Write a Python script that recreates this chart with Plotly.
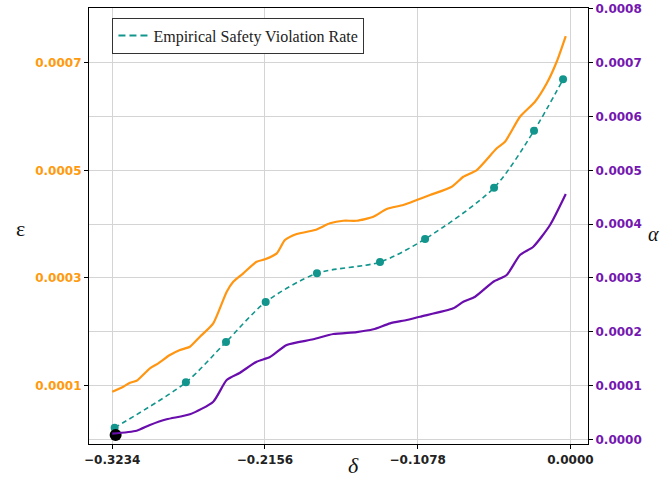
import plotly.graph_objects as go

# ---- data ----
eps_delta = [-0.3234, -0.3156, -0.3109, -0.3062, -0.2968, -0.2909, -0.2827, -0.2756, -0.2686,
             -0.2615, -0.2521, -0.2426, -0.2380, -0.2309, -0.2215, -0.2156, -0.2073, -0.2015,
             -0.1932, -0.1803, -0.1697, -0.1603, -0.1509, -0.1391, -0.1297, -0.1180, -0.1085,
             -0.0991, -0.0838, -0.0756, -0.0661, -0.0520, -0.0462, -0.0356, -0.0250, -0.0167,
             -0.0097, -0.0033]
eps_vals = [0.0000885, 0.0000978, 0.0001052, 0.0001089, 0.0001320, 0.0001413, 0.0001567, 0.0001660,
            0.0001721, 0.0001907, 0.0002156, 0.0002743, 0.0002929, 0.0003085, 0.0003301, 0.0003346,
            0.0003457, 0.0003704, 0.0003816, 0.0003890, 0.0004015, 0.0004063, 0.0004063, 0.0004137,
            0.0004281, 0.0004355, 0.0004448, 0.0004541, 0.0004695, 0.0004881, 0.0005005, 0.0005409,
            0.0005531, 0.0005996, 0.0006275, 0.0006617, 0.0007018, 0.0007496]

alpha_delta = [-0.3234, -0.3062, -0.2968, -0.2850, -0.2686, -0.2521, -0.2426, -0.2332, -0.2215,
               -0.2121, -0.2003, -0.1815, -0.1674, -0.1509, -0.1391, -0.1273, -0.1156, -0.1062,
               -0.0827, -0.0756, -0.0673, -0.0544, -0.0450, -0.0356, -0.0262, -0.0144, -0.0033]
alpha_vals = [0.0000105, 0.0000160, 0.0000266, 0.0000372, 0.0000465, 0.0000699, 0.0001102, 0.0001238,
              0.0001442, 0.0001530, 0.0001753, 0.0001859, 0.0001957, 0.0001994, 0.0002045, 0.0002156,
              0.0002217, 0.0002279, 0.0002435, 0.0002558, 0.0002651, 0.0002929, 0.0003054, 0.0003426,
              0.0003580, 0.0003983, 0.0004559]

emp_delta = [-0.3217, -0.2714, -0.2431, -0.2151, -0.1789, -0.1344, -0.1026, -0.0539, -0.0257, -0.0052]
emp_vals = [0.0000216, 0.0001059, 0.0001809, 0.0002552, 0.0003085, 0.0003295, 0.0003723,
            0.0004677, 0.0005736, 0.0006691]

start_delta = [-0.3210]
start_val = [0.0000080]

x_ticks = [-0.3234, -0.2156, -0.1078, 0.0]
left_ticks = [0.0001, 0.0003, 0.0005, 0.0007]
right_ticks = [0.0, 0.0001, 0.0002, 0.0003, 0.0004, 0.0005, 0.0006, 0.0007, 0.0008]

ORANGE = "#FF9510"
PURPLE = "#6A0DAD"
TEAL = "#12958C"
ORANGE_LBL = "#FF9A0E"
PURPLE_LBL = "#7417B0"

yrange = [-0.0000087, 0.0008017]

fig = go.Figure()
fig.add_trace(go.Scatter(x=eps_delta, y=eps_vals, mode="lines",
                         line=dict(color=ORANGE, width=2.2, shape="spline", smoothing=0.6),
                         showlegend=False, yaxis="y"))
fig.add_trace(go.Scatter(x=alpha_delta, y=alpha_vals, mode="lines",
                         line=dict(color=PURPLE, width=2.2, shape="spline", smoothing=0.6),
                         showlegend=False, yaxis="y2"))
fig.add_trace(go.Scatter(x=emp_delta, y=emp_vals, mode="lines+markers",
                         line=dict(color=TEAL, width=1.6, dash="5px,3.5px", shape="spline", smoothing=0.8),
                         marker=dict(color=TEAL, size=8), showlegend=False, yaxis="y"))
# legend entry (line only)
fig.add_trace(go.Scatter(x=[None], y=[None], mode="lines", name="Empirical Safety Violation Rate",
                         line=dict(color=TEAL, width=1.8, dash="7px,4px"), yaxis="y"))
fig.add_trace(go.Scatter(x=start_delta, y=start_val, mode="markers", marker=dict(color="black", size=12),
                         showlegend=False, yaxis="y"))

tickfont_x = dict(family="DejaVu Sans", size=12, color="#222222", weight="bold")
fig.update_layout(
    width=660, height=493,
    margin=dict(l=89, r=72, t=8, b=49),
    paper_bgcolor="white", plot_bgcolor="white",
    xaxis=dict(range=[-0.3398, 0.0124], tickvals=x_ticks, tickformat=".4f", automargin=False,
               showgrid=True, gridcolor="#d4d4d4", gridwidth=1,
               showline=True, linecolor="black", linewidth=1.2, mirror=True,
               ticks="outside", ticklen=4, tickcolor="black",
               tickfont=tickfont_x, zeroline=False),
    yaxis=dict(range=yrange, tickvals=left_ticks, tickformat=".4f", automargin=False,
               showgrid=True, gridcolor="#d4d4d4", gridwidth=1,
               showline=True, linecolor="black", linewidth=1.2,
               ticks="outside", ticklen=4, tickcolor="black",
               tickfont=dict(family="DejaVu Sans", size=12, color=ORANGE_LBL, weight="bold"), zeroline=False),
    yaxis2=dict(range=yrange, tickvals=right_ticks, tickformat=".4f", overlaying="y", side="right",
                automargin=False,
                showgrid=True, gridcolor="#d4d4d4", gridwidth=1,
                showline=True, linecolor="black", linewidth=1.2,
                ticks="outside", ticklen=4, tickcolor="black",
                tickfont=dict(family="DejaVu Sans", size=12, color=PURPLE_LBL, weight="bold"), zeroline=False),
    legend=dict(x=0.047, y=0.978, xanchor="left", yanchor="top",
                bgcolor="white", bordercolor="#333333", borderwidth=1,
                font=dict(family="Liberation Serif", size=16, color="#222222"),
                itemwidth=30),
    annotations=[
        dict(text="ε", x=14, y=228, xref="paper", yref="paper", showarrow=False,
             font=dict(family="Liberation Serif", size=22, color="#111111")),
        dict(text="<i>α</i>", x=646, y=234, xref="paper", yref="paper", showarrow=False,
             xanchor="left",
             font=dict(family="Liberation Serif", size=20, color="#111111")),
        dict(text="<i>δ</i>", x=353, y=480, xref="paper", yref="paper", showarrow=False,
             font=dict(family="Liberation Serif", size=22, color="#111111")),
    ],
)

# convert pixel-placed axis titles to paper coords
W, H = 660, 493
l, r, t, b = 89, 72, 8, 49
pw, ph = W - l - r, H - t - b
for a in fig.layout.annotations:
    px, py = a.x, a.y
    a.x = (px - l) / pw
    a.y = 1 - (py - t) / ph

fig.write_html("out.html")
